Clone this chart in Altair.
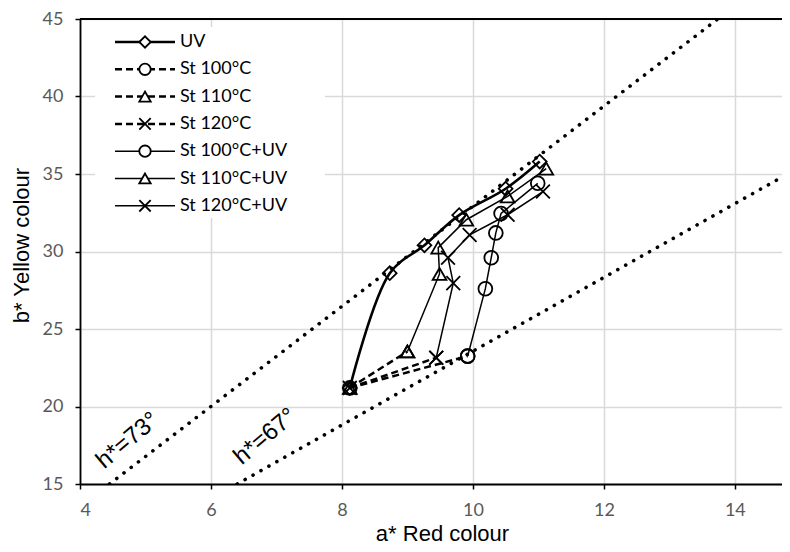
import altair as alt
import pandas as pd

# ---------------- data ----------------
series_names = ["UV", "St 100°C", "St 110°C", "St 120°C",
                "St 100°C+UV", "St 110°C+UV", "St 120°C+UV"]

uv_a = [8.12, 8.73, 9.26, 9.79, 10.50, 11.02]
uv_b = [21.2, 28.6, 30.4, 32.35, 34.05, 35.8]

st100_a = [8.12, 9.92]
st100_b = [21.2, 23.25]
st110_a = [8.12, 9.00]
st110_b = [21.2, 23.55]
st120_a = [8.12, 9.44]
st120_b = [21.2, 23.15]

st100uv_a = [9.92, 10.19, 10.28, 10.35, 10.43, 10.99]
st100uv_b = [23.25, 27.6, 29.6, 31.2, 32.45, 34.4]
st110uv_a = [9.00, 9.49, 9.47, 9.90, 10.53, 11.12]
st110uv_b = [23.55, 28.55, 30.25, 32.05, 33.55, 35.35]
st120uv_a = [9.44, 9.70, 9.62, 9.95, 10.53, 11.07]
st120uv_b = [23.15, 27.96, 29.6, 31.07, 32.37, 33.87]

# hue reference lines (end points)
hue_labels = ["h*=73°", "h*=67°"]
hue_a = [[4.45, 13.74], [6.40, 14.72]]
hue_b = [[15.0, 45.0], [15.0, 34.8]]
hue_text_a = [4.73, 6.83]
hue_text_b = [17.79, 18.05]

x_ticks = [4, 6, 8, 10, 12, 14]
y_ticks = [15, 20, 25, 30, 35, 40, 45]

# ---------------- styling ----------------
X_CROSS = "M-1,-1L1,1M-1,1L1,-1"
marker_of = {"UV": "diamond", "St 100°C": "circle", "St 110°C": "triangle-up",
             "St 120°C": X_CROSS, "St 100°C+UV": "circle",
             "St 110°C+UV": "triangle-up", "St 120°C+UV": X_CROSS}
style_of = {"UV": "thick", "St 100°C": "dash", "St 110°C": "dash", "St 120°C": "dash",
            "St 100°C+UV": "thin", "St 110°C+UV": "thin", "St 120°C+UV": "thin"}

series_data = [(uv_a, uv_b), (st100_a, st100_b), (st110_a, st110_b), (st120_a, st120_b),
               (st100uv_a, st100uv_b), (st110uv_a, st110uv_b), (st120uv_a, st120uv_b)]

rows = []
for name, (aa, bb) in zip(series_names, series_data):
    for i, (a, b) in enumerate(zip(aa, bb)):
        rows.append({"series": name, "idx": i, "a": a, "b": b,
                     "marker": marker_of[name], "style": style_of[name]})
df = pd.DataFrame(rows)

hue_rows = []
for lab, aa, bb in zip(hue_labels, hue_a, hue_b):
    for i, (a, b) in enumerate(zip(aa, bb)):
        hue_rows.append({"line": lab, "idx": i, "a": a, "b": b})
hue_df = pd.DataFrame(hue_rows)
hue_text_df = pd.DataFrame({"label": hue_labels, "a": hue_text_a, "b": hue_text_b})

W, H = 702, 465
XDOM = [4, 14.72]
YDOM = [15, 45]

x_enc = alt.X("a:Q", scale=alt.Scale(domain=XDOM, nice=False, zero=False),
              axis=alt.Axis(values=x_ticks, format="d", title="a* Red colour",
                            titleX=362, titleY=56,
                            titleBaseline="alphabetic", titleAlign="center"))
y_enc = alt.Y("b:Q", scale=alt.Scale(domain=YDOM, nice=False, zero=False),
              axis=alt.Axis(values=y_ticks, format="d", title="b* Yellow colour",
                            titleX=-52, titleY=226,
                            titleAngle=270, titleAlign="center", titleBaseline="alphabetic"))

base = alt.Chart(df)

hue_lines = alt.Chart(hue_df).mark_line(
    color="black", strokeWidth=3.6, strokeDash=[0.1, 9], strokeCap="round", clip=True
).encode(x=x_enc, y=y_enc, detail="line:N", order="idx:Q")

hue_text = alt.Chart(hue_text_df).mark_text(
    angle=320, font="Liberation Sans", fontSize=24, color="black",
    align="center", baseline="middle"
).encode(x="a:Q", y="b:Q", text="label:N")

dash_lines = base.transform_filter(alt.datum.style == "dash").mark_line(
    color="black", strokeWidth=2.5, strokeDash=[7, 4]
).encode(x="a:Q", y="b:Q", detail="series:N", order="idx:Q")

uv_line = base.transform_filter(alt.datum.style == "thick").mark_line(
    color="black", strokeWidth=2.6, interpolate="catmull-rom"
).encode(x="a:Q", y="b:Q", detail="series:N", order="idx:Q")

thin_lines = base.transform_filter(alt.datum.style == "thin").mark_line(
    color="black", strokeWidth=1.5
).encode(x="a:Q", y="b:Q", detail="series:N", order="idx:Q")

shape_scale = alt.Scale(domain=["diamond", "circle", "triangle-up", X_CROSS],
                        range=["diamond", "circle", "triangle-up", X_CROSS])
points = base.mark_point(filled=False, color="black", strokeWidth=1.8, size=190,
                         opacity=1).encode(
    x="a:Q", y="b:Q",
    shape=alt.Shape("marker:N", scale=shape_scale, legend=None))

top_border = alt.Chart(alt.Data(values=[{}])).mark_rule(
    color="black", strokeWidth=2).encode(y=alt.datum(45))

# ---------------- legend (drawn by hand) ----------------
one = alt.Data(values=[{}])
legend_layers = [
    alt.Chart(one).mark_rect(color="white").encode(
        x=alt.value(15), x2=alt.value(245), y=alt.value(8), y2=alt.value(199))
]
for i, name in enumerate(series_names):
    yy = 23 + 27.3 * i
    st = style_of[name]
    kw = {"color": "black", "strokeWidth": 2.5 if st != "thin" else 1.5}
    if st == "dash":
        kw["strokeDash"] = [7, 4]
    legend_layers.append(alt.Chart(one).mark_rule(**kw).encode(
        x=alt.value(35), x2=alt.value(95), y=alt.value(yy)))
    legend_layers.append(alt.Chart(one).mark_point(
        shape=marker_of[name], filled=False, color="black", strokeWidth=1.8,
        size=130, opacity=1, fill="white"
    ).encode(x=alt.value(65), y=alt.value(yy)))
    legend_layers.append(alt.Chart(one).mark_text(
        align="left", baseline="middle", font="Lato", fontSize=18, color="black"
    ).encode(x=alt.value(100), y=alt.value(yy), text=alt.value(name)))

chart = alt.layer(
    hue_lines, dash_lines, uv_line, thin_lines, points, hue_text,
    *legend_layers, top_border
).properties(
    width=W, height=H,
    autosize=alt.AutoSizeParams(type="none"),
    padding={"left": 72, "top": 11, "right": 0, "bottom": 60},
).configure_view(stroke=None).configure_axis(
    domainColor="black", domainWidth=1.8, tickColor="black", tickWidth=1.5, tickSize=5,
    gridColor="#d9d9d9", gridWidth=1.5, labelFont="Lato", labelFontSize=18,
    labelColor="#595959", titleFont="Liberation Sans", titleFontSize=22,
    titleFontWeight="normal", titleColor="black"
).configure_axisX(labelPadding=12).configure_axisY(labelPadding=12)

chart.save("out.html", embed_options={"renderer": "svg", "actions": False})
